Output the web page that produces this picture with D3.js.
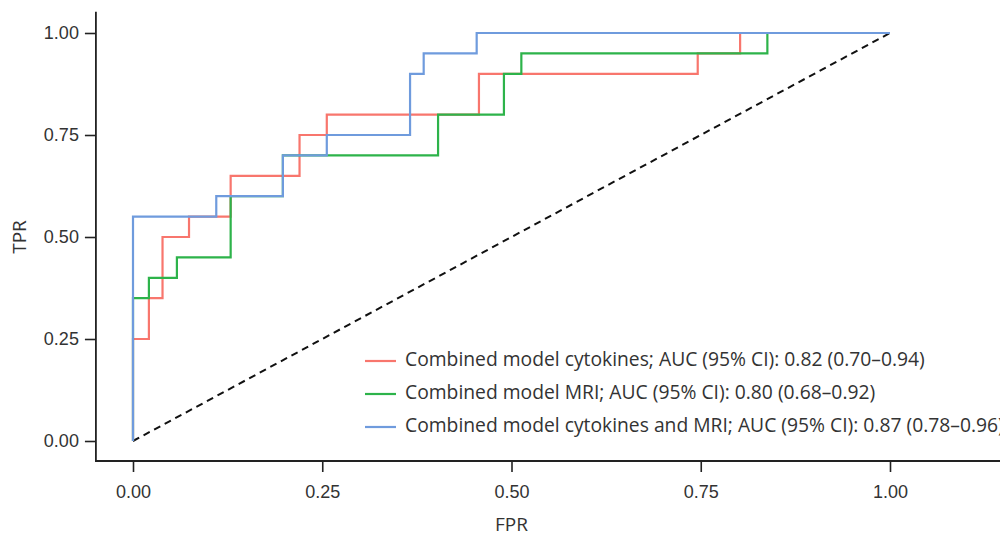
<!DOCTYPE html>
<html>
<head>
<meta charset="utf-8">
<script src="https://cdn.jsdelivr.net/npm/d3@7"></script>
<style>
  body { margin: 0; background: #fff; }
  svg { display: block; font-family: "Open Sans", "Noto Sans", sans-serif; }
  .tick text { fill: #333; font-size: 18px; }
  .tick line { stroke: #222; stroke-width: 1.6; }
</style>
</head>
<body>
<svg id="chart" width="1000" height="536"></svg>
<script>
"use strict";

// ROC vertices (stepBefore: rise at current fpr, then run to next fpr)
const cytoFpr = [0, 0.021, 0.039, 0.074, 0.129, 0.22, 0.256, 0.457, 0.746, 0.802, 1];
const cytoTpr = [0, 0.25, 0.35, 0.50, 0.55, 0.65, 0.75, 0.80, 0.90, 0.95, 1];

const mriFpr = [0, 0.021, 0.058, 0.129, 0.198, 0.403, 0.49, 0.513, 0.838, 1];
const mriTpr = [0, 0.35, 0.40, 0.45, 0.60, 0.70, 0.80, 0.90, 0.95, 1];

const bothFpr = [0, 0.11, 0.198, 0.256, 0.366, 0.384, 0.454, 1];
const bothTpr = [0, 0.55, 0.60, 0.70, 0.75, 0.90, 0.95, 1];

const seriesNames = [
    "Combined model cytokines; AUC (95% CI): 0.82 (0.70–0.94)",
    "Combined model MRI; AUC (95% CI): 0.80 (0.68–0.92)",
    "Combined model cytokines and MRI; AUC (95% CI): 0.87 (0.78–0.96)"
];
const seriesColors = ["#F8766D", "#2DB34A", "#6F9BDD"];
const ticks = [0, 0.25, 0.5, 0.75, 1];

const series = [
    { fpr: cytoFpr, tpr: cytoTpr },
    { fpr: mriFpr, tpr: mriTpr },
    { fpr: bothFpr, tpr: bothTpr }
].map((s, i) => ({
    name: seriesNames[i],
    color: seriesColors[i],
    points: s.fpr.map((f, j) => [f, s.tpr[j]])
}));

const svg = d3.select("#chart");

const x = d3.scaleLinear().domain([0, 1]).range([133, 890]);
const y = d3.scaleLinear().domain([0, 1]).range([441, 33]);
const pad = 0.049;

// axes
const yAxis = svg.append("g")
    .attr("transform", `translate(${x(-pad)},0)`)
    .call(d3.axisLeft(y).tickValues(ticks).tickFormat(d3.format(".2f"))
        .tickSize(11).tickPadding(6));
yAxis.select(".domain").remove();

const xAxis = svg.append("g")
    .attr("transform", `translate(0,${y(-pad)})`)
    .call(d3.axisBottom(x).tickValues(ticks).tickFormat(d3.format(".2f"))
        .tickSize(11).tickPadding(13));
xAxis.select(".domain").remove();

svg.append("path")
    .attr("d", `M${x(-pad)},${y(1.052)}V${y(-pad)}H1000`)
    .attr("fill", "none")
    .attr("stroke", "#222")
    .attr("stroke-width", 1.8);

svg.append("text")
    .attr("x", x(0.5))
    .attr("y", 526)
    .attr("text-anchor", "middle")
    .attr("dominant-baseline", "middle")
    .attr("fill", "#333")
    .attr("font-size", 19)
    .text("FPR");

svg.append("text")
    .attr("transform", `translate(21,${y(0.5)}) rotate(-90)`)
    .attr("text-anchor", "middle")
    .attr("dominant-baseline", "middle")
    .attr("fill", "#333")
    .attr("font-size", 19)
    .text("TPR");

// chance line
svg.append("line")
    .attr("x1", x(0)).attr("y1", y(0))
    .attr("x2", x(1)).attr("y2", y(1))
    .attr("stroke", "#111")
    .attr("stroke-width", 2)
    .attr("stroke-dasharray", "7,5");

const line = d3.line()
    .x(d => x(d[0]))
    .y(d => y(d[1]))
    .curve(d3.curveStepBefore);

svg.append("g")
    .selectAll("path")
    .data(series)
    .join("path")
    .attr("d", d => line(d.points))
    .attr("fill", "none")
    .attr("stroke", d => d.color)
    .attr("stroke-width", 2.2);

// legend
const legend = svg.append("g")
    .selectAll("g")
    .data(series)
    .join("g")
    .attr("transform", (d, i) => `translate(365,${361 + i * 33})`);

legend.append("line")
    .attr("x1", 0).attr("x2", 31)
    .attr("stroke", d => d.color)
    .attr("stroke-width", 2.2);

legend.append("text")
    .attr("x", 40)
    .attr("dominant-baseline", "middle")
    .attr("fill", "#333")
    .attr("font-size", 19.3)
    .text(d => d.name);
</script>
</body>
</html>
